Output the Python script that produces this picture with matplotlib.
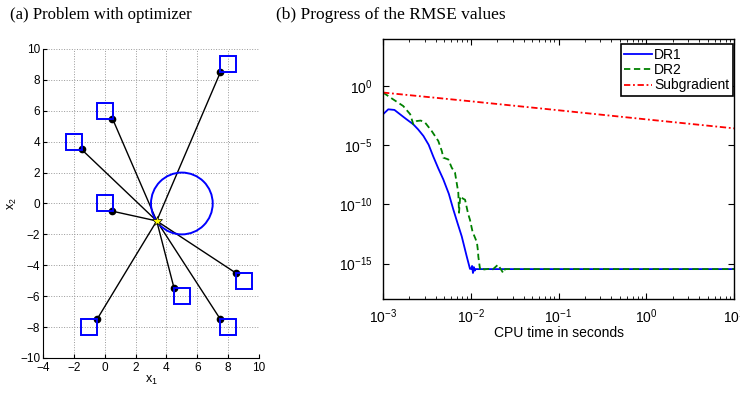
import numpy as np
import matplotlib
matplotlib.use('Agg')
import matplotlib.pyplot as plt
from matplotlib.patches import Circle
from matplotlib.ticker import LogLocator, NullLocator, NullFormatter

plt.rcParams['font.family'] = ['Liberation Sans', 'DejaVu Sans']
plt.rcParams['mathtext.fontset'] = 'custom'
plt.rcParams['mathtext.rm'] = 'Liberation Sans'
plt.rcParams['mathtext.it'] = 'Liberation Sans:italic'

# (a) anchors (squares), sensor estimates (dots), optimizer (star), circle
anchor_x = [8, 0, -2, 0, 9, 5, 8, -1]
anchor_y = [9, 6, 4, 0, -5, -6, -8, -8]
point_x = [7.5, 0.5, -1.5, 0.5, 8.5, 4.5, 7.5, -0.5]
point_y = [8.5, 5.5, 3.5, -0.5, -4.5, -5.5, -7.5, -7.5]
opt_x, opt_y = 3.37, -1.13
circle_center = (5, 0)
circle_radius = 2

# (b) RMSE progress, read as log10(time) / log10(rmse)
dr1_logt = [-3, -2.94, -2.87, -2.806, -2.74, -2.655, -2.6, -2.54, -2.48, -2.427,
            -2.37, -2.313, -2.25, -2.2, -2.15, -2.103, -2.046, -2.009, -1.995,
            -1.985, -1.975, -1.965, -1.955, -1.945, 1]
dr1_logr = [-2.37, -1.95, -2.0, -2.37, -2.75, -3.22, -3.65, -4.2, -4.95, -5.95,
            -6.95, -7.88, -9.1, -10.4, -11.6, -12.7, -14.4, -15.45, -15.45,
            -15.2, -15.8, -15.3, -15.6, -15.47, -15.47]
dr2_logt = [-3, -2.886, -2.77, -2.69, -2.655, -2.616, -2.57, -2.52, -2.445, -2.37,
            -2.33, -2.313, -2.256, -2.217, -2.18, -2.142, -2.134, -2.12, -2.09,
            -2.065, -2.03, -2.009, -1.98, -1.93, -1.917, -1.914, -1.895, -1.88,
            -1.85, -1.8, -1.75, -1.69, -1.66, -1.63, -1.61, 1]
dr2_logr = [-0.53, -1.1, -1.67, -2.37, -3.22, -2.94, -2.9, -3.08, -3.79, -4.63,
            -5.48, -6.04, -6.19, -6.89, -7.3, -9.0, -10.7, -9.3, -9.5,
            -9.6, -10.8, -11.3, -12.3, -13.2, -14.0, -14.4, -15.45, -15.3,
            -15.5, -15.45, -15.5, -15.1, -15.45, -15.8, -15.47, -15.47]
sub_logt = [-3, -2, -1, 0, 1]
sub_logr = [-0.53, -1.27, -2.03, -2.8, -3.56]

fig = plt.figure(figsize=(7.4, 3.94), dpi=100)

# ---- (a) ----
ax1 = fig.add_axes([0.0581, 0.0914, 0.2919, 0.7843])
ax1.grid(True, linestyle=':', color=(0.6, 0.6, 0.6), linewidth=0.7)
ax1.set_axisbelow(True)
for i in range(len(point_x)):
    ax1.plot([point_x[i], opt_x], [point_y[i], opt_y], '-k', linewidth=1.0, zorder=2)
ax1.plot(point_x, point_y, 'ok', markersize=4.5, zorder=3)
ax1.plot(anchor_x, anchor_y, 's', markersize=11.5, markerfacecolor='none',
         markeredgecolor='b', markeredgewidth=1.4, zorder=3)
ax1.add_patch(Circle(circle_center, circle_radius, fill=False, edgecolor='b',
                     linewidth=1.4, zorder=2))
ax1.plot(opt_x, opt_y, '*', color='yellow', markeredgecolor='k',
         markeredgewidth=0.5, markersize=7, zorder=4)
ax1.set_xlim(-4, 10)
ax1.set_ylim(-10, 10)
ax1.set_xticks(np.arange(-4, 11, 2))
ax1.set_yticks(np.arange(-10, 11, 2))
ax1.set_xticklabels([str(v).replace('-', '\u2212') for v in range(-4, 11, 2)])
ax1.set_yticklabels([str(v).replace('-', '\u2212') for v in range(-10, 11, 2)])
ax1.spines['top'].set_visible(False)
ax1.spines['right'].set_visible(False)
ax1.tick_params(direction='in', length=3, labelsize=8.5, pad=2)
ax1.tick_params(axis='x', pad=3)
ax1.set_xlabel(r'$\mathregular{x_1}$', fontsize=9, labelpad=0)
ax1.set_ylabel(r'$\mathregular{x_2}$', fontsize=9, labelpad=1)

# ---- (b) ----
ax2 = fig.add_axes([0.5176, 0.2411, 0.4743, 0.6599])
ax2.plot(10.0 ** np.array(dr1_logt), 10.0 ** np.array(dr1_logr), '-', color='b',
         linewidth=1.3, label='DR1')
ax2.plot(10.0 ** np.array(dr2_logt), 10.0 ** np.array(dr2_logr), color=(0, 0.5, 0),
         linestyle=(0, (3.5, 2)), linewidth=1.3, label='DR2')
ax2.plot(10.0 ** np.array(sub_logt), 10.0 ** np.array(sub_logr), color='r',
         linestyle=(0, (3.5, 1.5, 1, 1.5)), linewidth=1.3, label='Subgradient')
ax2.set_xscale('log')
ax2.set_yscale('log')
ax2.set_xlim(1e-3, 1e1)
ax2.set_ylim(1e-18, 1e4)
ax2.set_xticks([1e-3, 1e-2, 1e-1, 1e0, 1e1])
ax2.xaxis.set_minor_locator(LogLocator(base=10, subs=np.arange(2, 10)))
ax2.xaxis.set_minor_formatter(NullFormatter())
ax2.set_yticks([1e-15, 1e-10, 1e-5, 1e0])
ax2.yaxis.set_minor_locator(NullLocator())
ax2.tick_params(which='both', direction='in', top=True, right=True, labelsize=10)
ax2.tick_params(which='major', length=4)
ax2.tick_params(which='minor', length=2)
ax2.tick_params(axis='x', pad=6)
ax2.tick_params(axis='y', pad=7.5)
ax2.set_xlabel('CPU time in seconds', fontsize=10, labelpad=0)
for s in ax2.spines.values():
    s.set_linewidth(1.0)
leg = ax2.legend(loc='upper right', bbox_to_anchor=(0.997, 0.98), fontsize=10,
                 fancybox=False, framealpha=1, edgecolor='k', borderaxespad=0,
                 handlelength=2.0, handletextpad=0.15, borderpad=0.25,
                 labelspacing=0.1)
leg.get_frame().set_linewidth(1.2)

fig.text(0.0135, 0.962, '(a) Problem with optimizer', family='Liberation Serif',
         fontsize=12.1, va='center', ha='left')
fig.text(0.373, 0.962, '(b) Progress of the RMSE values', family='Liberation Serif',
         fontsize=12.5, va='center', ha='left')

fig.savefig('out.png', dpi=100)
